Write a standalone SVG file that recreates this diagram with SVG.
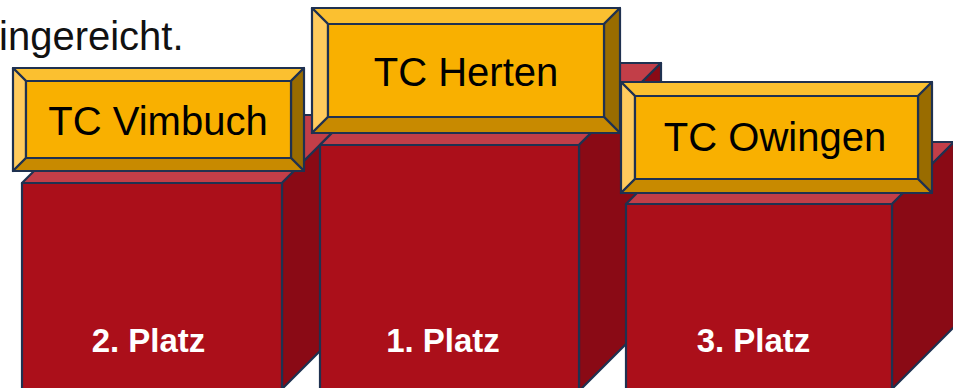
<svg xmlns="http://www.w3.org/2000/svg" width="953" height="388" viewBox="0 0 953 388">
<style>
.st{stroke:#1F3150;stroke-width:2.2;stroke-linejoin:round}
.front{fill:#AB0F1A}
.top{fill:#C23E48}
.side{fill:#8A0A15}
.bc{fill:#F9B000}
.bt{fill:#FBC030}
.bl{fill:#FFCB5D}
.br{fill:#996C00}
.bb{fill:#C88A00}
.lbl{font-family:"Liberation Sans",Arial,sans-serif;font-size:40px;fill:#000;text-anchor:middle}
.plz{font-family:"Liberation Sans",Arial,sans-serif;font-size:33px;font-weight:bold;fill:#FFFFFF;text-anchor:middle}
.intro{font-family:"Liberation Sans",Arial,sans-serif;font-size:40px;fill:#111}
</style>
<rect width="953" height="388" fill="#FFFFFF"/>
<text class="intro" x="-1" y="50">ingereicht.</text>
<g id="connectors"/>
<g id="platz2">
<polygon class="top st" points="22,183 282,183 350,115 90,115"/>
<polygon class="side st" points="282,183 350,115 350,321 282,389"/>
<rect class="front st" x="22" y="183" width="260" height="206"/>
<text class="plz" x="148.5" y="352">2. Platz</text>
</g>
<g id="platz1">
<polygon class="top st" points="320,145 579,145 661,63 402,63"/>
<polygon class="side st" points="579,145 661,63 661,309 579,391"/>
<rect class="front st" x="320" y="145" width="259" height="246"/>
<text class="plz" x="443" y="352">1. Platz</text>
</g>
<g id="platz3">
<polygon class="top st" points="626,204 892,204 954,142 688,142"/>
<polygon class="side st" points="892,204 954,142 954,327 892,389"/>
<rect class="front st" x="626" y="204" width="266" height="185"/>
<text class="plz" x="753.5" y="352">3. Platz</text>
</g>
<g id="label-vimbuch">
<rect class="bc" x="13" y="68" width="291" height="103"/>
<polygon class="bt st" points="13,68 304,68 291,81 26,81"/>
<polygon class="bl st" points="13,68 26,81 26,158 13,171"/>
<polygon class="br st" points="304,68 304,171 291,158 291,81"/>
<polygon class="bb st" points="13,171 304,171 291,158 26,158"/>
<rect class="bc st" x="26" y="81" width="265" height="77"/>
<text class="lbl" x="158" y="135">TC Vimbuch</text>
</g>
<g id="label-herten">
<polygon class="bt st" points="312,8 620,8 604,24 328,24"/>
<polygon class="bl st" points="312,8 328,24 328,117 312,133"/>
<polygon class="br st" points="620,8 620,133 604,117 604,24"/>
<polygon class="bb st" points="312,133 620,133 604,117 328,117"/>
<rect class="bc st" x="328" y="24" width="276" height="93"/>
<text class="lbl" x="466" y="86">TC Herten</text>
</g>
<g id="label-owingen">
<polygon class="bt st" points="621,82 932,82 918,96 635,96"/>
<polygon class="bl st" points="621,82 635,96 635,179 621,193"/>
<polygon class="br st" points="932,82 932,193 918,179 918,96"/>
<polygon class="bb st" points="621,193 932,193 918,179 635,179"/>
<rect class="bc st" x="635" y="96" width="283" height="83"/>
<text class="lbl" x="775" y="151">TC Owingen</text>
</g>
</svg>
